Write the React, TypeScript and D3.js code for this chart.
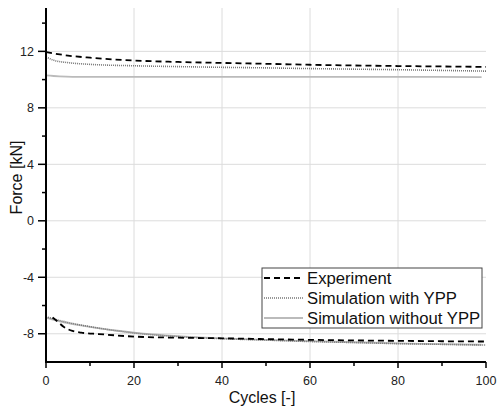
import * as d3 from "d3";

const W = 497;
const H = 408;

// upper branch (tension)
const expUpperCycles = [0, 5, 10, 20, 30, 40, 50, 60, 70, 80, 90, 100];
const expUpperForce = [11.95, 11.7, 11.55, 11.35, 11.25, 11.18, 11.12, 11.05, 11.0, 10.96, 10.93, 10.9];
const ypUpperCycles = [0, 2, 5, 10, 20, 30, 40, 50, 60, 70, 80, 90, 100];
const ypUpperForce = [11.6, 11.35, 11.2, 11.08, 10.98, 10.92, 10.87, 10.83, 10.78, 10.74, 10.7, 10.65, 10.6];
const noUpperCycles = [0, 3, 6, 20, 40, 60, 80, 99];
const noUpperForce = [10.3, 10.23, 10.2, 10.2, 10.2, 10.19, 10.19, 10.18];

// lower branch (compression)
const expLowerCycles = [1.5, 2.5, 4, 6, 8, 12, 20, 30, 40, 50, 60, 70, 80, 90, 100];
const expLowerForce = [-6.85, -7.1, -7.5, -7.8, -7.92, -8.02, -8.2, -8.28, -8.32, -8.38, -8.43, -8.47, -8.5, -8.53, -8.55];
const ypLowerCycles = [0, 5, 10, 20, 30, 40, 50, 60, 70, 80, 90, 100];
const ypLowerForce = [-6.8, -7.2, -7.5, -7.95, -8.2, -8.35, -8.45, -8.55, -8.62, -8.7, -8.75, -8.8];
const noLowerCycles = [0, 5, 10, 20, 30, 40, 50, 60, 70, 80, 90, 99];
const noLowerForce = [-6.85, -7.25, -7.52, -7.92, -8.17, -8.32, -8.43, -8.52, -8.6, -8.68, -8.73, -8.78];

const xMajor = [0, 20, 40, 60, 80, 100];
const xMinor = [10, 30, 50, 70, 90];
const yMajor = [-8, -4, 0, 4, 8, 12];
const yMinor = [-6, -2, 2, 6, 10, 14];
const xGrid = [20, 40, 60, 80];

const legendLabels = ["Experiment", "Simulation with YPP", "Simulation without YPP"];

const FONT = "'Liberation Sans', Arial, sans-serif";

const x = d3.scaleLinear().domain([0, 100]).range([46, 486]);
const y = d3.scaleLinear().domain([-10, 15]).range([362, 9]);

const line = d3
  .line<[number, number]>()
  .x((d) => x(d[0]))
  .y((d) => y(d[1]))
  .curve(d3.curveMonotoneX);

const zip = (a: number[], b: number[]) => a.map((v, i) => [v, b[i]] as [number, number]);

const styles = [
  { stroke: "#000", width: 1.8, dash: "6,4" },
  { stroke: "#777", width: 1.6, dash: "1,1" },
  { stroke: "#bbb", width: 1.8, dash: undefined as string | undefined },
];

export default function App() {
  const series = [
    { d: zip(noUpperCycles, noUpperForce), s: styles[2] },
    { d: zip(noLowerCycles, noLowerForce), s: styles[2] },
    { d: zip(ypUpperCycles, ypUpperForce), s: styles[1] },
    { d: zip(ypLowerCycles, ypLowerForce), s: styles[1] },
    { d: zip(expUpperCycles, expUpperForce), s: styles[0] },
    { d: zip(expLowerCycles, expLowerForce), s: styles[0] },
  ];
  const [x0, x1] = x.range();
  const [yb, yt] = y.range();

  return (
    <svg
      width={W}
      height={H}
      style={{ position: "absolute", left: 0, top: 0, background: "#fff" }}
      fontFamily={FONT}
    >
      {/* grid */}
      <g stroke="#dcdcdc" strokeWidth={1}>
        {xGrid.map((v) => (
          <line key={"gx" + v} x1={x(v)} x2={x(v)} y1={yt - 1} y2={yb} />
        ))}
        {yMajor.map((v) => (
          <line key={"gy" + v} x1={x0} x2={x1} y1={y(v)} y2={y(v)} />
        ))}
      </g>

      {/* data */}
      <g fill="none">
        {series.map((ser, i) => (
          <path
            key={i}
            d={line(ser.d) ?? ""}
            stroke={ser.s.stroke}
            strokeWidth={ser.s.width}
            strokeDasharray={ser.s.dash}
          />
        ))}
      </g>

      {/* axes */}
      <g stroke="#000">
        <line x1={x0} x2={x0} y1={yt - 1} y2={yb + 1} strokeWidth={2} />
        <line x1={x0 - 1} x2={x1} y1={yb} y2={yb} strokeWidth={2} />
        {yMajor.map((v) => (
          <line key={"ty" + v} x1={x0 - 8} x2={x0} y1={y(v)} y2={y(v)} strokeWidth={1.5} />
        ))}
        {yMinor.map((v) => (
          <line key={"tym" + v} x1={x0 - 4} x2={x0} y1={y(v)} y2={y(v)} strokeWidth={1.5} />
        ))}
        {xMajor.map((v) => (
          <line key={"tx" + v} x1={x(v)} x2={x(v)} y1={yb} y2={yb + 6} strokeWidth={1.5} />
        ))}
        {xMinor.map((v) => (
          <line key={"txm" + v} x1={x(v)} x2={x(v)} y1={yb} y2={yb + 4} strokeWidth={1.5} />
        ))}
      </g>

      <g fontSize={12.5} fill="#222">
        {yMajor.map((v) => (
          <text key={"ly" + v} x={x0 - 12} y={y(v)} dy="0.35em" textAnchor="end">
            {v}
          </text>
        ))}
        {xMajor.map((v) => (
          <text key={"lx" + v} x={x(v)} y={yb + 23} textAnchor="middle">
            {v}
          </text>
        ))}
      </g>

      <text x={(x0 + x1) / 2 - 4} y={403} textAnchor="middle" fontSize={16} fill="#111">
        Cycles [-]
      </text>
      <text
        transform={`translate(22, ${(yt + yb) / 2 - 8}) rotate(-90)`}
        textAnchor="middle"
        fontSize={16}
        fill="#111"
      >
        Force [kN]
      </text>

      {/* legend */}
      <g>
        <rect x={262} y={268} width={220} height={60} fill="#fff" stroke="#444" strokeWidth={1} />
        {legendLabels.map((lab, i) => {
          const ly = 278 + i * 20;
          const s = styles[i];
          return (
            <g key={lab}>
              <line
                x1={264}
                x2={303}
                y1={ly}
                y2={ly}
                stroke={s.stroke}
                strokeWidth={s.width}
                strokeDasharray={s.dash}
              />
              <text x={307} y={ly} dy="0.35em" fontSize={16.7} fill="#111">
                {lab}
              </text>
            </g>
          );
        })}
      </g>
    </svg>
  );
}
